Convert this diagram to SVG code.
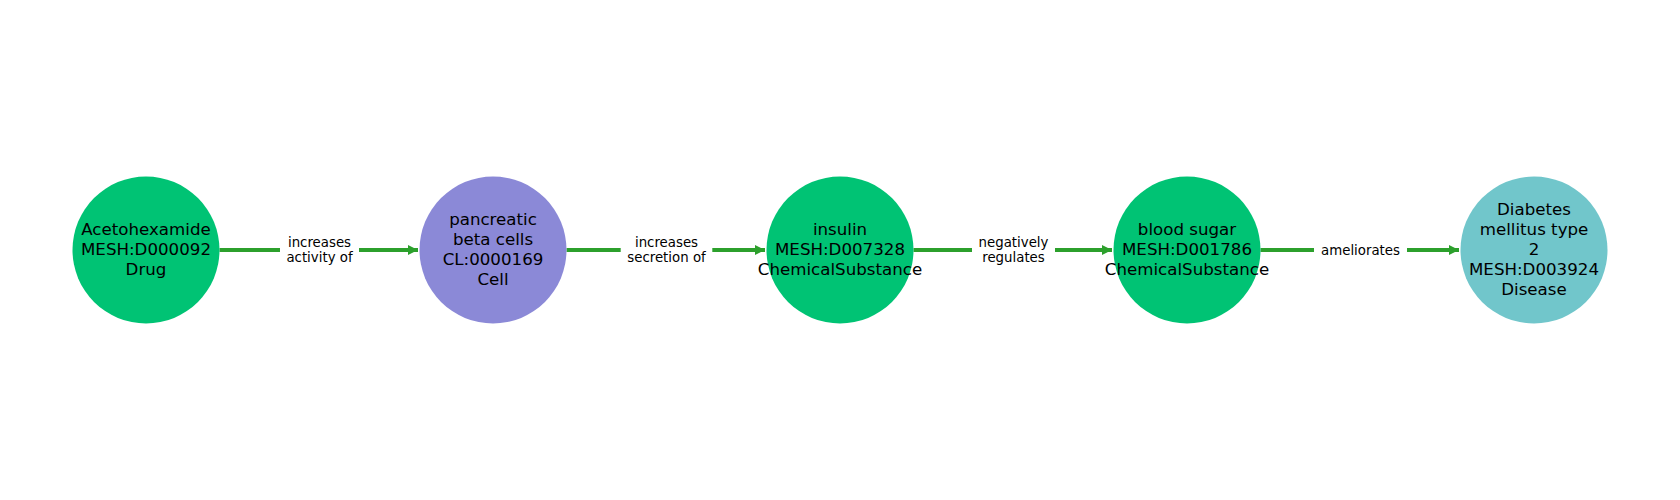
<svg xmlns="http://www.w3.org/2000/svg" width="1680" height="500" viewBox="0 0 1680 500">
<style>
.nt{font-family:"DejaVu Sans",sans-serif;font-size:16.67px;fill:#000;text-anchor:middle}
.et{font-family:"DejaVu Sans",sans-serif;font-size:13.33px;fill:#000;text-anchor:middle}
.edge{stroke:#2ca02c;stroke-width:4;fill:none}
.lb{fill:#fff}
</style>
<defs>
<marker id="arr" markerUnits="userSpaceOnUse" markerWidth="12" markerHeight="12" refX="11" refY="6" orient="auto">
<path d="M1,1 L11,6 L1,11 Z" fill="#2ca02c"/>
</marker>
</defs>
<rect width="1680" height="500" fill="#fff"/>
<g id="connectors">
<line class="edge" x1="219.5" y1="250" x2="418" y2="250" marker-end="url(#arr)"/>
<line class="edge" x1="566.5" y1="250" x2="765" y2="250" marker-end="url(#arr)"/>
<line class="edge" x1="913.5" y1="250" x2="1112" y2="250" marker-end="url(#arr)"/>
<line class="edge" x1="1260.5" y1="250" x2="1459" y2="250" marker-end="url(#arr)"/>
<rect class="lb" x="280" y="230" width="79" height="40"/>
<text class="et" x="319.5" y="246.5">increases</text>
<text class="et" x="319.5" y="262">activity of</text>
<rect class="lb" x="620.7" y="230" width="91.6" height="40"/>
<text class="et" x="666.5" y="246.5">increases</text>
<text class="et" x="666.5" y="262">secretion of</text>
<rect class="lb" x="972" y="230" width="83" height="40"/>
<text class="et" x="1013.5" y="246.5">negatively</text>
<text class="et" x="1013.5" y="262">regulates</text>
<rect class="lb" x="1314" y="238" width="93" height="24"/>
<text class="et" x="1360.5" y="254.5">ameliorates</text>
</g>
<g id="n1">
<circle cx="146" cy="250" r="73.5" fill="#00c374"/>
<text class="nt" x="146" y="234.5">Acetohexamide</text>
<text class="nt" x="146" y="254.5">MESH:D000092</text>
<text class="nt" x="146" y="274.5">Drug</text>
</g>
<g id="n2">
<circle cx="493" cy="250" r="73.5" fill="#8b89d7"/>
<text class="nt" x="493" y="224.5">pancreatic</text>
<text class="nt" x="493" y="244.5">beta cells</text>
<text class="nt" x="493" y="264.5">CL:0000169</text>
<text class="nt" x="493" y="284.5">Cell</text>
</g>
<g id="n3">
<circle cx="840" cy="250" r="73.5" fill="#00c374"/>
<text class="nt" x="840" y="234.5">insulin</text>
<text class="nt" x="840" y="254.5">MESH:D007328</text>
<text class="nt" x="840" y="274.5">ChemicalSubstance</text>
</g>
<g id="n4">
<circle cx="1187" cy="250" r="73.5" fill="#00c374"/>
<text class="nt" x="1187" y="234.5">blood sugar</text>
<text class="nt" x="1187" y="254.5">MESH:D001786</text>
<text class="nt" x="1187" y="274.5">ChemicalSubstance</text>
</g>
<g id="n5">
<circle cx="1534" cy="250" r="73.5" fill="#71c6cb"/>
<text class="nt" x="1534" y="214.5">Diabetes</text>
<text class="nt" x="1534" y="234.5">mellitus type</text>
<text class="nt" x="1534" y="254.5">2</text>
<text class="nt" x="1534" y="274.5">MESH:D003924</text>
<text class="nt" x="1534" y="294.5">Disease</text>
</g>
</svg>
